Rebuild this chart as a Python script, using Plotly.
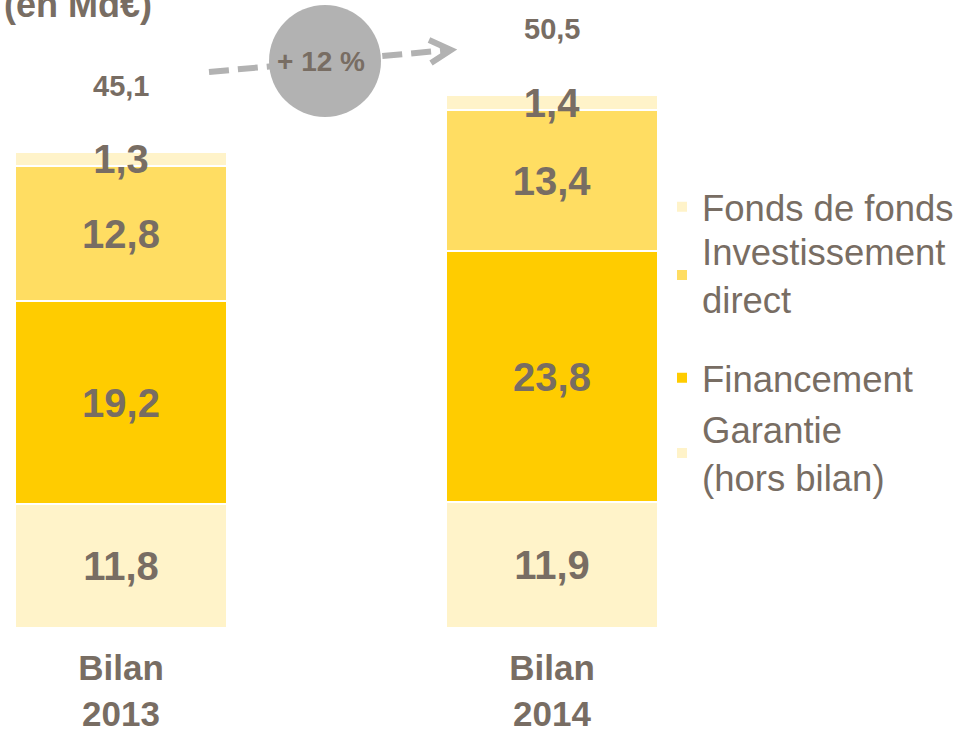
import plotly.graph_objects as go

# data (en Md€)
categories = ['Bilan<br>2013', 'Bilan<br>2014']
garantie = [11.8, 11.9]
financement = [19.2, 23.8]
investissement = [12.8, 13.4]
fonds_de_fonds = [1.3, 1.4]
growth_label = '+ 12 %'

W, H = 963, 730
TOP_PLOT = 628  # px of bar baseline (plot bottom, t=0)
FONT = 'Arial, Liberation Sans, sans-serif'
TXT = '#786D63'
GREY = '#B2B2B2'


def fmt(v):
    return f'{v:.1f}'.replace('.', ',')


def px(x):
    return x / W


def py(y):
    return (TOP_PLOT - y) / TOP_PLOT


series = [
    ('Garantie<br>(hors bilan)', garantie, '#FFF3C9', 'legend4', 453),
    ('Financement', financement, '#FFCC00', 'legend3', 378),
    ('Investissement<br>direct', investissement, '#FFDD62', 'legend2', 275),
    ('Fonds de fonds', fonds_de_fonds, '#FFF3C9', 'legend', 207),
]

fig = go.Figure()
legends = {}
for name, vals, color, leg, ly in series:
    fig.add_trace(go.Bar(x=categories, y=vals, name=name, width=0.49,
                         marker={'color': color, 'line': {'color': 'white', 'width': 2}},
                         text=[fmt(v) for v in vals], textposition='inside',
                         insidetextanchor='middle', textangle=0,
                         textfont={'size': 40, 'color': TXT, 'family': FONT, 'weight': 'bold'},
                         legend=leg, showlegend=True, hoverinfo='skip'))
    legends[leg] = dict(x=px(662), y=py(ly), xanchor='left', yanchor='middle',
                        bgcolor='rgba(0,0,0,0)',
                        font={'size': 36.5, 'color': TXT, 'family': FONT})

totals = [round(a + b + c + d, 1) for a, b, c, d in zip(garantie, financement, investissement, fonds_de_fonds)]

annotations = []
for cat, tot in zip(categories, totals):
    annotations.append(dict(x=cat, y=tot + 6.3, xref='x', yref='y', text=fmt(tot),
                            showarrow=False, yanchor='middle',
                            font={'size': 29, 'color': TXT, 'family': FONT, 'weight': 'bold'}))

annotations.append(dict(x=0, y=py(4), xref='paper', yref='paper', text='(en Md€)',
                        showarrow=False, xanchor='left', yanchor='middle', xshift=2,
                        font={'size': 36, 'color': TXT, 'family': FONT, 'weight': 'bold'}))
annotations.append(dict(x=px(321), y=py(62), xref='paper', yref='paper', text=growth_label,
                        showarrow=False, xanchor='center', yanchor='middle',
                        font={'size': 28, 'color': TXT, 'family': FONT, 'weight': 'bold'}))

shapes = [
    dict(type='line', xref='paper', yref='paper', x0=px(209), y0=py(72), x1=px(448), y1=py(50),
         line={'color': GREY, 'width': 6, 'dash': '20px,9px'}, layer='below'),
    dict(type='path', xref='paper', yref='paper',
         path=f'M {px(429)},{py(40)} L {px(451)},{py(50)} L {px(431)},{py(63)}',
         line={'color': GREY, 'width': 6}, layer='below'),
    dict(type='circle', xref='paper', yref='paper', x0=px(269), x1=px(381), y0=py(5), y1=py(117),
         fillcolor=GREY, line={'width': 0}, layer='below'),
]

fig.update_layout(
    width=W, height=H,
    barmode='stack', bargap=0,
    showlegend=True,
    plot_bgcolor='white', paper_bgcolor='white',
    margin=dict(l=0, r=0, t=0, b=H - TOP_PLOT, autoexpand=False),
    uniformtext={'minsize': 40, 'mode': 'show'},
    xaxis={'range': [-121 / 431, (W - 121) / 431], 'showgrid': False, 'zeroline': False,
           'showline': False, 'ticks': '', 'ticklabelstandoff': 16, 'automargin': False,
           'tickfont': {'size': 35, 'color': TXT, 'family': FONT, 'weight': 'bold'}},
    yaxis={'range': [0, TOP_PLOT / 10.55], 'visible': False, 'automargin': False},
    annotations=annotations,
    shapes=shapes,
    **legends,
)

fig.write_html('out.html', config={'displayModeBar': False},
               post_script="document.body.style.margin='0';")
